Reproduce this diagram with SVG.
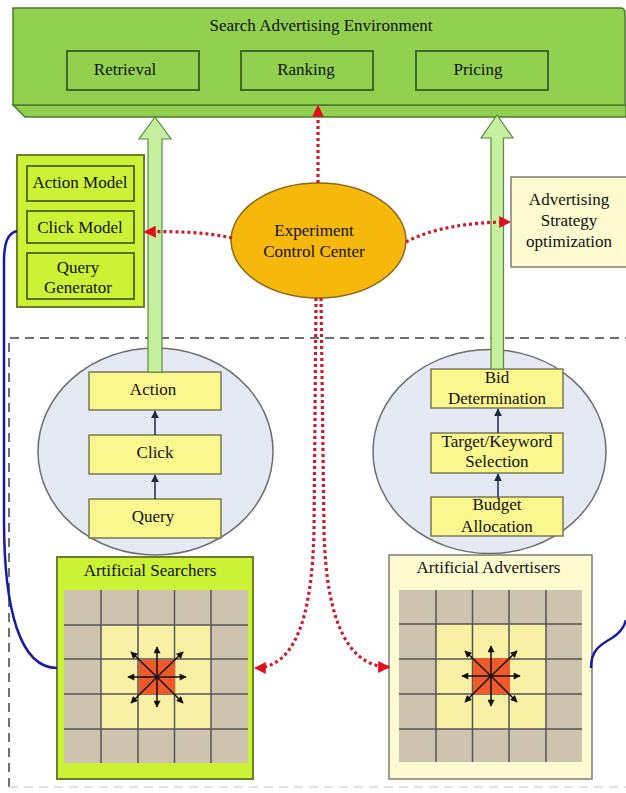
<svg xmlns="http://www.w3.org/2000/svg" width="626" height="793" viewBox="0 0 626 793">
<defs>
<style>
text{font-family:"Liberation Serif","Times New Roman",serif;font-size:17px;fill:#111;text-anchor:middle}
.env{fill:#92d050;stroke:#4d7a2e;stroke-width:1.5}
.envbox{fill:#92d050;stroke:#3f6a25;stroke-width:2}
.lime{fill:#ccf236;stroke:#6f7d2a;stroke-width:2}
.limein{fill:#ccf236;stroke:#5f6e25;stroke-width:2}
.cloud{fill:#e4e9f4;stroke:#6d6d6d;stroke-width:1.5}
.yb{fill:#fbf78f;stroke:#777a52;stroke-width:1.5}
.cream{fill:#fdfbcf;stroke:#7d7d72;stroke-width:1.5}
.harrow{fill:#c6efa0;stroke:#5a8a3a;stroke-width:1.2}
.red{fill:none;stroke:#cc1c2c;stroke-width:3.2;stroke-dasharray:3 3}
.blue{fill:none;stroke:#1a1aa0;stroke-width:2.5}
.small{stroke:#1f2a44;stroke-width:1.5;fill:none}
.tan{fill:#cdc3ae}
.inner{fill:#f7f0a5}
.core{fill:#ee5a2a}
.gl{stroke:#555;stroke-width:1.5}
.ga{stroke:#111;stroke-width:1.5}
</style>
<marker id="rh" markerUnits="userSpaceOnUse" viewBox="0 0 10 10" refX="9" refY="5" markerWidth="13" markerHeight="12" orient="auto"><path d="M0,0 L10,5 L0,10 z" fill="#e0101e"/></marker>
<marker id="sh" markerUnits="userSpaceOnUse" viewBox="0 0 10 10" refX="9" refY="5" markerWidth="8" markerHeight="8" orient="auto"><path d="M0,0 L10,5 L0,10 z" fill="#1f2a44"/></marker>
<marker id="bh" markerUnits="userSpaceOnUse" viewBox="0 0 10 10" refX="9" refY="5" markerWidth="8" markerHeight="7" orient="auto"><path d="M0,0 L10,5 L0,10 z" fill="#111"/></marker>
<g id="burst">
<line class="ga" x1="0" y1="0" x2="0" y2="-30" marker-end="url(#bh)"/>
<line class="ga" x1="0" y1="0" x2="0" y2="30" marker-end="url(#bh)"/>
<line class="ga" x1="0" y1="0" x2="-29" y2="0" marker-end="url(#bh)"/>
<line class="ga" x1="0" y1="0" x2="29" y2="0" marker-end="url(#bh)"/>
<line class="ga" x1="0" y1="0" x2="-26" y2="-25" marker-end="url(#bh)"/>
<line class="ga" x1="0" y1="0" x2="26" y2="-25" marker-end="url(#bh)"/>
<line class="ga" x1="0" y1="0" x2="-26" y2="26" marker-end="url(#bh)"/>
<line class="ga" x1="0" y1="0" x2="26" y2="26" marker-end="url(#bh)"/>
</g>
</defs>
<rect width="626" height="793" fill="#fff"/>

<!-- dashed frame -->
<path d="M9,787 L9,338 L626,338" fill="none" stroke="#707070" stroke-width="2" stroke-dasharray="9 6"/>
<path d="M9,787 L626,787" fill="none" stroke="#d8d8d8" stroke-width="1.5" stroke-dasharray="9 6"/>

<!-- Search Advertising Environment -->
<g id="env">
<path class="env" d="M13,105 L25,117 L626,117 L626,105 z"/>
<path class="env" d="M13,8 L620,8 Q625,8 625,13 L625,105 L13,105 z"/>
<text x="321" y="31">Search Advertising Environment</text>
<g id="retrieval"><rect class="envbox" x="67" y="51" width="132" height="39"/><text x="125" y="75">Retrieval</text></g>
<g id="ranking"><rect class="envbox" x="241" y="51" width="132" height="39"/><text x="306" y="75">Ranking</text></g>
<g id="pricing"><rect class="envbox" x="416" y="51" width="132" height="39"/><text x="478" y="75">Pricing</text></g>
</g>

<!-- models panel -->
<g id="models">
<rect class="lime" x="17" y="155" width="127" height="152"/>
<g id="action-model"><rect class="limein" x="27" y="166" width="107" height="35"/><text x="80" y="188">Action Model</text></g>
<g id="click-model"><rect class="limein" x="27" y="211" width="107" height="32"/><text x="80" y="232.5">Click Model</text></g>
<g id="query-generator"><rect class="limein" x="27" y="253" width="107" height="46"/><text x="78" y="272.5">Query</text><text x="78" y="293">Generator</text></g>
</g>

<!-- Experiment Control Center -->
<g id="ecc">
<ellipse cx="318.5" cy="240.5" rx="87.5" ry="57.5" fill="#f7b80c" stroke="#8a6a1e" stroke-width="1.5"/>
<text x="314" y="236">Experiment</text>
<text x="314" y="257">Control Center</text>
</g>

<!-- Advertising Strategy optimization -->
<g id="strategy">
<rect class="cream" x="511" y="177" width="120" height="90"/>
<text x="569" y="205">Advertising</text>
<text x="569" y="226">Strategy</text>
<text x="569" y="247">optimization</text>
</g>

<!-- searcher cloud -->
<g id="searcher-process">
<ellipse class="cloud" cx="155.5" cy="451.5" rx="117.5" ry="103.5"/>
<g id="action"><rect class="yb" x="89" y="372" width="132" height="38"/><text x="153" y="395">Action</text></g>
<g id="click"><rect class="yb" x="89" y="435" width="132" height="39"/><text x="155" y="458">Click</text></g>
<g id="query"><rect class="yb" x="89" y="499" width="132" height="39"/><text x="153" y="521.5">Query</text></g>
</g>

<!-- advertiser cloud -->
<g id="advertiser-process">
<ellipse class="cloud" cx="489.5" cy="451.5" rx="116.5" ry="102"/>
<g id="bid"><rect class="yb" x="431" y="369" width="132" height="39"/><text x="497" y="383">Bid</text><text x="497" y="404">Determination</text></g>
<g id="target"><rect class="yb" x="431" y="433" width="132" height="40"/><text x="497" y="447">Target/Keyword</text><text x="497" y="467">Selection</text></g>
<g id="budget"><rect class="yb" x="431" y="497" width="132" height="39"/><text x="497" y="510">Budget</text><text x="497" y="531.5">Allocation</text></g>
</g>

<!-- Artificial Searchers -->
<g id="searchers">
<rect class="lime" x="57" y="557" width="196" height="222" stroke="#556b2f"/>
<text x="150" y="576">Artificial Searchers</text>
<rect class="tan" x="64" y="590" width="184" height="173"/>
<rect class="inner" x="101" y="625" width="110" height="104"/>
<g class="gl">
<line x1="101" y1="590" x2="101" y2="763"/><line x1="138" y1="590" x2="138" y2="763"/><line x1="174.5" y1="590" x2="174.5" y2="763"/><line x1="211" y1="590" x2="211" y2="763"/>
<line x1="64" y1="625" x2="248" y2="625"/><line x1="64" y1="659" x2="248" y2="659"/><line x1="64" y1="694" x2="248" y2="694"/><line x1="64" y1="729" x2="248" y2="729"/>
</g>
<rect class="core" x="139" y="660" width="36" height="34"/>
<use href="#burst" x="157" y="677"/>
</g>

<!-- Artificial Advertisers -->
<g id="advertisers">
<rect class="cream" x="389" y="555" width="203" height="224"/>
<text x="488.5" y="573">Artificial Advertisers</text>
<rect class="tan" x="399" y="590" width="183" height="172"/>
<rect class="inner" x="436" y="624" width="110" height="105"/>
<g class="gl">
<line x1="436" y1="590" x2="436" y2="762"/><line x1="472.5" y1="590" x2="472.5" y2="762"/><line x1="509" y1="590" x2="509" y2="762"/><line x1="546" y1="590" x2="546" y2="762"/>
<line x1="399" y1="624" x2="582" y2="624"/><line x1="399" y1="659" x2="582" y2="659"/><line x1="399" y1="694" x2="582" y2="694"/><line x1="399" y1="729" x2="582" y2="729"/>
</g>
<rect class="core" x="473" y="658" width="37" height="36"/>
<use href="#burst" x="491" y="676"/>
</g>

<!-- connectors -->
<g id="connectors">
<path class="harrow" d="M155,117 L171,139 L162,139 L162,372 L148,372 L148,139 L139,139 z"/>
<path class="harrow" d="M497,115 L513,138 L503.5,138 L503.5,369 L491,369 L491,138 L481,138 z"/>
<line class="small" x1="155" y1="435" x2="155" y2="411" marker-end="url(#sh)"/>
<line class="small" x1="155" y1="499" x2="155" y2="475" marker-end="url(#sh)"/>
<line class="small" x1="498" y1="433" x2="498" y2="409" marker-end="url(#sh)"/>
<line class="small" x1="498" y1="497" x2="498" y2="474" marker-end="url(#sh)"/>
<path class="red" d="M318,183 L318,106" marker-end="url(#rh)"/>
<path class="red" d="M232,238 C205,232 175,231 145,232" marker-end="url(#rh)"/>
<path class="red" d="M406,242 C432,228 470,222 510,222" marker-end="url(#rh)"/>
<path class="red" d="M316,298 L314,530 C312,625 292,668 255,668" marker-end="url(#rh)"/>
<path class="red" d="M321,298 L324,530 C326,625 350,667 389,667" marker-end="url(#rh)"/>
<path class="blue" d="M17,231 C8,233 4,242 4,262 L4,520 C4,610 20,668 57,668"/>
<path class="blue" d="M591,668 C591,650 600,645 612,638 C620,633 624,628 626,620"/>
</g>
</svg>
